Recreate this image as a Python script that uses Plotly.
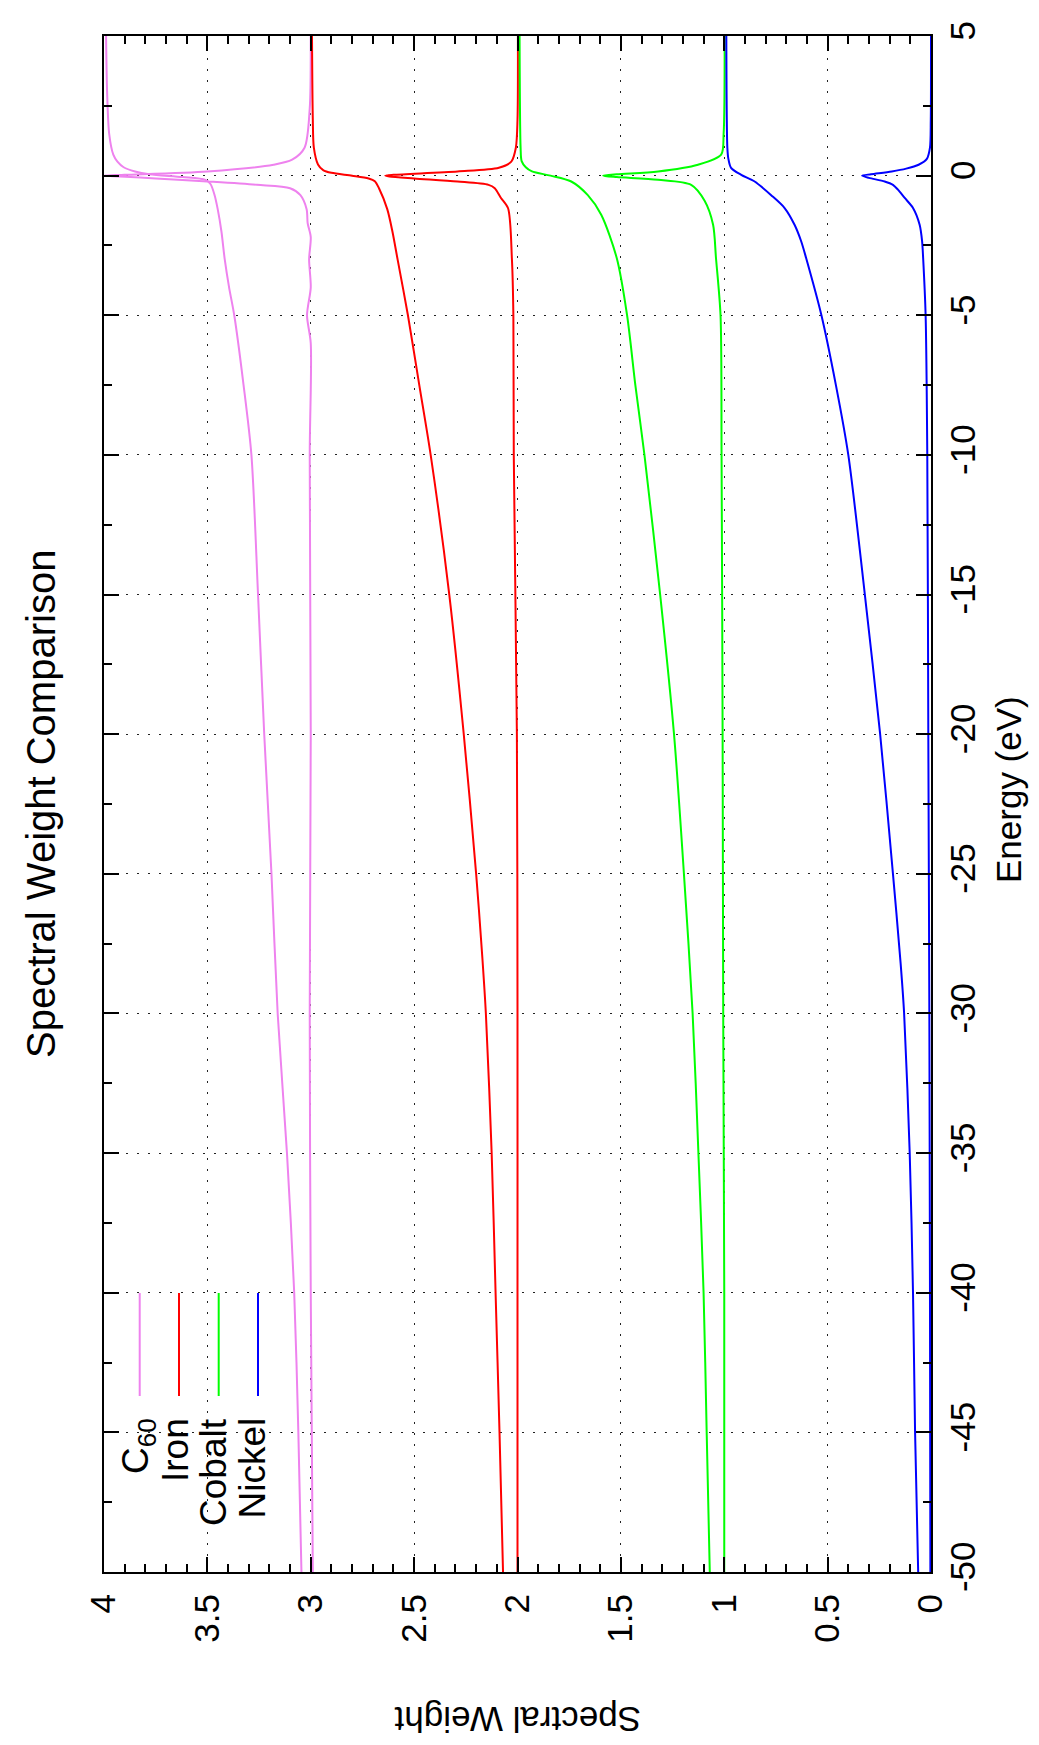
import plotly.graph_objects as go

# ---------------- data ----------------
# Energy axis (eV) and spectral-weight axis
energy_ticks = [-50, -45, -40, -35, -30, -25, -20, -15, -10, -5, 0, 5]
energy_tick_text = ["-50", "-45", "-40", "-35", "-30", "-25", "-20", "-15", "-10", "-5", "0", "5"]
weight_ticks = [4, 3.5, 3, 2.5, 2, 1.5, 1, 0.5, 0]
weight_tick_text = ["4", "3.5", "3", "2.5", "2", "1.5", "1", "0.5", "0"]

# C60 (offset 3)
c60_cum_E = [-50, -45, -40, -35, -30, -25, -20, -15, -10, -7.5, -5, -4, -3, -2, -1.2, -0.7,
             -0.3, -0.15, -0.05, 0.05, 0.15, 0.3, 0.5, 0.75, 1.5, 3, 5]
c60_cum = [3.045, 3.06, 3.08, 3.115, 3.16, 3.19, 3.225, 3.255, 3.287, 3.325, 3.37, 3.395, 3.416,
           3.432, 3.45, 3.465, 3.485, 3.51, 3.62, 3.78, 3.85, 3.905, 3.935, 3.955, 3.975, 3.985, 3.99]
c60_spec_E = [-50, -40, -30, -20, -10, -6, -5, -4, -3, -2.2, -1.7, -1.2, -0.7, -0.45, -0.33,
              -0.21, -0.1, -0.03, 0, 0.03, 0.15, 0.39, 0.57, 1.0, 2.4, 5]
c60_spec = [2.99, 3.0, 3.005, 3.0, 3.005, 3.0, 3.018, 3.0, 3.008, 3.0, 3.015, 3.02, 3.05, 3.10,
            3.26, 3.5, 3.75, 3.92, 4.0, 3.9, 3.5, 3.18, 3.09, 3.03, 3.005, 3.0]

# Iron (offset 2)
fe_cum_E = [-50, -45, -40, -35, -30, -28, -25, -20, -15, -10, -7.5, -5, -3, -2, -1.2, -0.45,
            -0.2, -0.1, 0, 0.1, 0.2, 0.4, 1, 2, 5]
fe_cum = [2.07, 2.087, 2.106, 2.125, 2.153, 2.17, 2.20, 2.26, 2.33, 2.42, 2.475, 2.53, 2.58,
          2.605, 2.63, 2.67, 2.69, 2.72, 2.80, 2.90, 2.94, 2.965, 2.985, 2.99, 2.994]
fe_spec_E = [-50, -40, -30, -20, -10, -5, -3, -1.16, -0.8, -0.45, -0.33, -0.21, -0.1, -0.03,
             0, 0.03, 0.15, 0.28, 0.5, 1, 2, 5]
fe_spec = [2.0, 2.0, 2.0, 2.003, 2.018, 2.02, 2.027, 2.046, 2.08, 2.11, 2.14, 2.29, 2.5, 2.62,
           2.64, 2.6, 2.29, 2.09, 2.03, 2.008, 2.0, 1.998]

# Cobalt (offset 1)
co_cum_E = [-50, -45, -40, -35, -30, -25, -20, -15, -10, -7.5, -5, -2.95, -1.4, -0.7, -0.21,
            0, 0.15, 0.3, 0.52, 1, 5]
co_cum = [1.07, 1.085, 1.10, 1.125, 1.153, 1.195, 1.243, 1.31, 1.386, 1.43, 1.47, 1.52, 1.595,
          1.66, 1.74, 1.84, 1.93, 1.96, 1.98, 1.985, 1.99]
co_spec_E = [-50, -40, -30, -20, -10, -5, -2.95, -1.76, -0.9, -0.33, -0.15, -0.05, 0, 0.05,
             0.15, 0.39, 0.75, 1.5, 5]
co_spec = [1.0, 1.0, 1.005, 1.008, 1.013, 1.018, 1.04, 1.054, 1.095, 1.16, 1.32, 1.52, 1.586,
           1.52, 1.32, 1.127, 1.015, 1.003, 0.998]

# Nickel (offset 0)
ni_cum_E = [-50, -45, -40, -35, -30, -28.2, -25, -20, -15, -10, -7.5, -5, -2.95, -2.35, -1.76,
            -1.16, -0.7, -0.21, 0.03, 0.28, 0.6, 1, 5]
ni_cum = [0.062, 0.077, 0.087, 0.103, 0.13, 0.147, 0.184, 0.246, 0.32, 0.40, 0.46, 0.53, 0.604,
          0.628, 0.66, 0.708, 0.773, 0.853, 0.918, 0.967, 0.98, 0.985, 0.99]
ni_spec_E = [-50, -40, -30, -20, -10, -5, -2.95, -2.35, -1.76, -1.16, -0.8, -0.5, -0.33, -0.21,
             -0.08, 0, 0.05, 0.15, 0.25, 0.39, 0.6, 1, 2, 5]
ni_spec = [0.003, 0.005, 0.008, 0.013, 0.018, 0.026, 0.038, 0.043, 0.055, 0.087, 0.127, 0.16,
           0.184, 0.224, 0.30, 0.333, 0.29, 0.19, 0.12, 0.06, 0.02, 0.005, 0.001, 0.0]

names = ["C<sub>60</sub>", "Iron", "Cobalt", "Nickel"]
colors = ["#ee82ee", "#ff0000", "#00ff00", "#0000ff"]
series = [
    (c60_cum_E, c60_cum, c60_spec_E, c60_spec),
    (fe_cum_E, fe_cum, fe_spec_E, fe_spec),
    (co_cum_E, co_cum, co_spec_E, co_spec),
    (ni_cum_E, ni_cum, ni_spec_E, ni_spec),
]

# ---------------- figure ----------------
W, H = 1039, 1745
L, R, T, B = 96, 923, 28, 1564  # plot area in pixels
FONT = "Liberation Sans, Arial, Helvetica, sans-serif"


def px(xp):
    return (xp - L) / (R - L)


def py(yp):
    return (B - yp) / (B - T)


fig = go.Figure()
for (cE, cv, sE, sv), col in zip(series, colors):
    fig.add_trace(go.Scatter(x=cv, y=cE, mode="lines",
                             line=dict(color=col, width=2, shape="spline", smoothing=0.8),
                             showlegend=False, hoverinfo="skip"))
    fig.add_trace(go.Scatter(x=sv, y=sE, mode="lines",
                             line=dict(color=col, width=2, shape="spline", smoothing=0.8),
                             showlegend=False, hoverinfo="skip"))

fig.update_layout(
    width=W, height=H, autosize=False,
    margin=dict(l=L, r=W - R, t=T, b=H - B, pad=0),
    paper_bgcolor="white", plot_bgcolor="white",
    font=dict(family=FONT, size=35, color="black"),
    showlegend=False,
)

fig.update_xaxes(
    range=[4, 0], tickvals=weight_ticks, ticktext=weight_tick_text, tickangle=-90,
    ticks="inside", ticklen=15, tickwidth=2, tickcolor="black",
    minor=dict(ticks="inside", ticklen=8, tickwidth=1.5, tickcolor="black", dtick=0.1, tick0=0,
               showgrid=False),
    showline=True, linecolor="black", linewidth=2, mirror="ticks",
    showgrid=True, gridcolor="#222", gridwidth=1, griddash="2px,9px",
    zeroline=False, ticklabelstandoff=6, tickfont=dict(size=35),
)
fig.update_yaxes(
    range=[-50, 5], tickvals=energy_ticks, ticktext=energy_tick_text, side="right",
    tickangle=-90,
    ticks="inside", ticklen=15, tickwidth=2, tickcolor="black",
    minor=dict(ticks="inside", ticklen=8, tickwidth=1.5, tickcolor="black", dtick=2.5, tick0=0,
               showgrid=False),
    showline=True, linecolor="black", linewidth=2, mirror="ticks",
    showgrid=True, gridcolor="#222", gridwidth=1, griddash="2px,9px",
    zeroline=False, ticklabelstandoff=0, tickfont=dict(size=35),
)

ann = []
ann.append(dict(text="Spectral Weight Comparison", x=px(33), y=0.5, xref="paper", yref="paper",
                textangle=-90, showarrow=False, xanchor="center", yanchor="middle",
                font=dict(size=40)))
ann.append(dict(text="Energy (eV)", x=px(1000), y=py(782), xref="paper", yref="paper",
                textangle=-90, showarrow=False, xanchor="center", yanchor="middle",
                font=dict(size=35)))
ann.append(dict(text="Spectral Weight", x=px(510), y=py(1712), xref="paper", yref="paper",
                textangle=180, showarrow=False, xanchor="center", yanchor="middle",
                font=dict(size=35)))

# legend (rotated, drawn as annotations + sample lines)
leg_line_x = [131.7, 171, 210.7, 250]
leg_text_x = [130, 167, 205, 244]
shapes = []
for name, col, lx, tx in zip(names, colors, leg_line_x, leg_text_x):
    shapes.append(dict(type="line", xref="paper", yref="paper", x0=px(lx), x1=px(lx),
                       y0=py(1285), y1=py(1388), line=dict(color=col, width=2)))
    ann.append(dict(text=name, x=px(tx), y=py(1408), xref="paper", yref="paper",
                    textangle=-90, showarrow=False, xanchor="center", yanchor="top",
                    font=dict(size=37)))

fig.update_layout(annotations=ann, shapes=shapes)
fig.write_html("out.html")
